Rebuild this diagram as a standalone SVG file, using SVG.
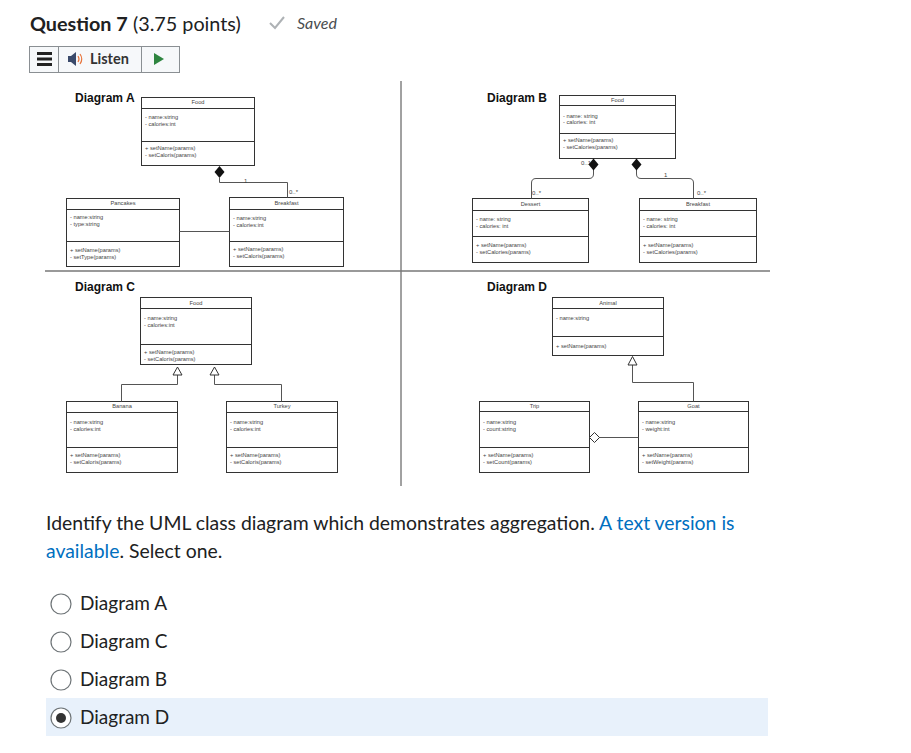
<svg xmlns="http://www.w3.org/2000/svg" width="911" height="753" viewBox="0 0 911 753">
<style>
.box{fill:#fff;stroke:#333;stroke-width:1}
.sep{stroke:#333;stroke-width:1}
.t{font-family:"Liberation Sans",Arial,sans-serif;font-size:5.7px;fill:#444}
.h{font-family:"Liberation Sans",Arial,sans-serif;font-size:5.7px;fill:#444;text-anchor:middle}
.lbl{font-family:"Liberation Sans",Arial,sans-serif;font-size:12px;font-weight:bold;fill:#111}
.m{font-family:"Liberation Sans",Arial,sans-serif;font-size:6px;fill:#444}
.ln{fill:none;stroke:#555;stroke-width:1}
.body{font-family:Lato,"Open Sans",sans-serif;font-size:19px;fill:#202122}
.q{font-size:19.4px}
.link{fill:#006fbf}
.radio{fill:#fff;stroke:#6e7477;stroke-width:1.2}
</style>
<rect width="911" height="753" fill="#fff"/>

<g id="header">
<text x="30" y="31" font-family="Lato,'Open Sans',sans-serif" font-size="19.8" fill="#202122"><tspan font-weight="bold">Question 7</tspan> (3.75 points)</text>
<path d="M270 23 L275 28 L284 17" fill="none" stroke="#aeb2b5" stroke-width="2"/>
<text x="297" y="29" font-family="Lato,'Open Sans',sans-serif" font-size="16" font-style="italic" fill="#494c4e">Saved</text>
</g>

<g id="listen-bar">
<rect x="29.5" y="46.5" width="150" height="26" fill="#f6f8fa" stroke="#8a8f93"/>
<line x1="58.5" y1="46.5" x2="58.5" y2="72.5" stroke="#8a8f93"/>
<line x1="141.5" y1="46.5" x2="141.5" y2="72.5" stroke="#8a8f93"/>
<rect x="37" y="52" width="15" height="3" fill="#222"/>
<rect x="37" y="57.5" width="15" height="3" fill="#222"/>
<rect x="37" y="63" width="15" height="3" fill="#222"/>
<path d="M68 56 L71 56 L76 52 L76 66 L71 62 L68 62 Z" fill="#3a4a6b"/>
<path d="M78 56 Q80 59 78 62 M80 54 Q83.5 59 80 64" fill="none" stroke="#e8743b" stroke-width="1.2"/>
<text x="90" y="64" font-family="Lato,'Open Sans',sans-serif" font-size="14.5" font-weight="bold" fill="#333">Listen</text>
<path d="M154 53 L164 59 L154 65 Z" fill="#2e8540"/>
</g>

<g id="dividers">
<line x1="401" y1="81" x2="401" y2="486" stroke="#444" stroke-width="1"/>
<line x1="45" y1="271" x2="770" y2="271" stroke="#777" stroke-width="1.3"/>
</g>

<g id="labels">
<text class="lbl" x="75" y="102">Diagram A</text>
<text class="lbl" x="487" y="102">Diagram B</text>
<text class="lbl" x="75" y="291">Diagram C</text>
<text class="lbl" x="487" y="291">Diagram D</text>
</g>

<!-- Diagram A -->
<g id="a-food">
<rect class="box" x="141.5" y="97.5" width="113" height="68"/>
<line class="sep" x1="141.5" y1="108.5" x2="254.5" y2="108.5"/>
<line class="sep" x1="141.5" y1="141.5" x2="254.5" y2="141.5"/>
<text class="h" x="198" y="104">Food</text>
<text class="t" x="145" y="119">- name:string</text>
<text class="t" x="145" y="126">- calories:int</text>
<text class="t" x="145" y="150">+ setName(params)</text>
<text class="t" x="145" y="157">- setCaloris(params)</text>
</g>
<g id="a-pancakes">
<rect class="box" x="66.5" y="198.5" width="113" height="68"/>
<line class="sep" x1="66.5" y1="209.5" x2="179.5" y2="209.5"/>
<line class="sep" x1="66.5" y1="241.5" x2="179.5" y2="241.5"/>
<text class="h" x="123" y="205">Pancakes</text>
<text class="t" x="70" y="219">- name:string</text>
<text class="t" x="70" y="226">- type:string</text>
<text class="t" x="70" y="252">+ setName(params)</text>
<text class="t" x="70" y="259">- setType(params)</text>
</g>
<g id="a-breakfast">
<rect class="box" x="229.5" y="197.5" width="114" height="69"/>
<line class="sep" x1="229.5" y1="209.5" x2="343.5" y2="209.5"/>
<line class="sep" x1="229.5" y1="241.5" x2="343.5" y2="241.5"/>
<text class="h" x="286.5" y="205">Breakfast</text>
<text class="t" x="233" y="220">- name:string</text>
<text class="t" x="233" y="227">- calories:int</text>
<text class="t" x="233" y="251">+ setName(params)</text>
<text class="t" x="233" y="258">- setCaloris(params)</text>
</g>

<!-- Diagram B -->
<g id="b-food">
<rect class="box" x="559.5" y="95.5" width="116" height="63"/>
<line class="sep" x1="559.5" y1="105.5" x2="675.5" y2="105.5"/>
<line class="sep" x1="559.5" y1="133.5" x2="675.5" y2="133.5"/>
<text class="h" x="617.5" y="102">Food</text>
<text class="t" x="563" y="118">- name: string</text>
<text class="t" x="563" y="124">- calories: int</text>
<text class="t" x="563" y="142">+ setName(params)</text>
<text class="t" x="563" y="149">- setCalories(params)</text>
</g>
<g id="b-dessert">
<rect class="box" x="472.5" y="198.5" width="116" height="64"/>
<line class="sep" x1="472.5" y1="210.5" x2="588.5" y2="210.5"/>
<line class="sep" x1="472.5" y1="236.5" x2="588.5" y2="236.5"/>
<text class="h" x="530.5" y="206">Dessert</text>
<text class="t" x="476" y="221">- name: string</text>
<text class="t" x="476" y="228">- calories: int</text>
<text class="t" x="476" y="247">+ setName(params)</text>
<text class="t" x="476" y="254">- setCalories(params)</text>
</g>
<g id="b-breakfast">
<rect class="box" x="639.5" y="198.5" width="117" height="64"/>
<line class="sep" x1="639.5" y1="210.5" x2="756.5" y2="210.5"/>
<line class="sep" x1="639.5" y1="236.5" x2="756.5" y2="236.5"/>
<text class="h" x="698" y="206">Breakfast</text>
<text class="t" x="643" y="221">- name: string</text>
<text class="t" x="643" y="228">- calories: int</text>
<text class="t" x="643" y="247">+ setName(params)</text>
<text class="t" x="643" y="254">- setCalories(params)</text>
</g>

<!-- Diagram C -->
<g id="c-food">
<rect class="box" x="140.5" y="297.5" width="111" height="67"/>
<line class="sep" x1="140.5" y1="308.5" x2="251.5" y2="308.5"/>
<line class="sep" x1="140.5" y1="344.5" x2="251.5" y2="344.5"/>
<text class="h" x="196" y="305">Food</text>
<text class="t" x="144" y="320">- name:string</text>
<text class="t" x="144" y="327">- calories:int</text>
<text class="t" x="144" y="354">+ setName(params)</text>
<text class="t" x="144" y="361">- setCaloris(params)</text>
</g>
<g id="c-banana">
<rect class="box" x="66.5" y="401.5" width="111" height="71"/>
<line class="sep" x1="66.5" y1="412.5" x2="177.5" y2="412.5"/>
<line class="sep" x1="66.5" y1="447.5" x2="177.5" y2="447.5"/>
<text class="h" x="122" y="408">Banana</text>
<text class="t" x="70" y="424">- name:string</text>
<text class="t" x="70" y="431">- calories:int</text>
<text class="t" x="70" y="457">+ setName(params)</text>
<text class="t" x="70" y="464">- setCaloris(params)</text>
</g>
<g id="c-turkey">
<rect class="box" x="226.5" y="401.5" width="111" height="71"/>
<line class="sep" x1="226.5" y1="412.5" x2="337.5" y2="412.5"/>
<line class="sep" x1="226.5" y1="447.5" x2="337.5" y2="447.5"/>
<text class="h" x="282" y="408">Turkey</text>
<text class="t" x="230" y="424">- name:string</text>
<text class="t" x="230" y="431">- calories:int</text>
<text class="t" x="230" y="457">+ setName(params)</text>
<text class="t" x="230" y="464">- setCaloris(params)</text>
</g>

<!-- Diagram D -->
<g id="d-animal">
<rect class="box" x="552.5" y="297.5" width="111" height="58"/>
<line class="sep" x1="552.5" y1="308.5" x2="663.5" y2="308.5"/>
<line class="sep" x1="552.5" y1="336.5" x2="663.5" y2="336.5"/>
<text class="h" x="608" y="305">Animal</text>
<text class="t" x="556" y="320">- name:string</text>
<text class="t" x="556" y="348">+ setName(params)</text>
</g>
<g id="d-trip">
<rect class="box" x="479.5" y="401.5" width="110" height="71"/>
<line class="sep" x1="479.5" y1="411.5" x2="589.5" y2="411.5"/>
<line class="sep" x1="479.5" y1="447.5" x2="589.5" y2="447.5"/>
<text class="h" x="534.5" y="408">Trip</text>
<text class="t" x="483" y="424">- name:string</text>
<text class="t" x="483" y="431">- count:string</text>
<text class="t" x="483" y="457">+ setName(params)</text>
<text class="t" x="483" y="464">- setCount(params)</text>
</g>
<g id="d-goat">
<rect class="box" x="638.5" y="401.5" width="110" height="71"/>
<line class="sep" x1="638.5" y1="411.5" x2="748.5" y2="411.5"/>
<line class="sep" x1="638.5" y1="447.5" x2="748.5" y2="447.5"/>
<text class="h" x="693.5" y="408">Goat</text>
<text class="t" x="642" y="424">- name:string</text>
<text class="t" x="642" y="431">- weight:int</text>
<text class="t" x="642" y="457">+ setName(params)</text>
<text class="t" x="642" y="464">- setWeight(params)</text>
</g>

<g id="connectors">
<!-- A -->
<path class="ln" d="M219.5 178 V182.5 H287.5 V197.5"/>
<path d="M219.5 166 L224.5 172 L219.5 178 L214.5 172 Z" fill="#111"/>
<text class="m" x="244" y="183">1</text>
<text class="m" x="289" y="194">0..*</text>
<line class="ln" x1="179.5" y1="231.5" x2="229.5" y2="231.5"/>
<!-- B -->
<text class="m" x="581" y="165">0..1</text>
<path class="ln" d="M593.5 170 V174 Q593.5 178.5 589 178.5 H536 Q531.5 178.5 531.5 183 V198.5"/>
<path d="M593.5 158.5 L598.5 164.5 L593.5 170.5 L588.5 164.5 Z" fill="#111"/>
<path class="ln" d="M636.5 170 V174 Q636.5 178.5 641 178.5 H689 Q693.5 178.5 693.5 183 V198.5"/>
<path d="M636.5 158.5 L641.5 164.5 L636.5 170.5 L631.5 164.5 Z" fill="#111"/>
<text class="m" x="532" y="195">0..*</text>
<text class="m" x="664" y="177">1</text>
<text class="m" x="697" y="195">0..*</text>
<!-- C -->
<path class="ln" d="M177.5 375 V384.5 H121.5 V401.5"/>
<path d="M177.5 367 L182 375 L173 375 Z" fill="#fff" stroke="#333" stroke-width="1"/>
<path class="ln" d="M214.5 375 V384.5 H281.5 V401.5"/>
<path d="M214.5 367 L219 375 L210 375 Z" fill="#fff" stroke="#333" stroke-width="1"/>
<!-- D -->
<path class="ln" d="M632.5 365 V382.5 H693.5 V401.5"/>
<path d="M632.5 356.5 L637 365 L628 365 Z" fill="#fff" stroke="#333" stroke-width="1"/>
<line class="ln" x1="599" y1="437.5" x2="638.5" y2="437.5"/>
<path d="M589.5 437.5 L594.5 432.5 L599.5 437.5 L594.5 442.5 Z" fill="#fff" stroke="#333" stroke-width="1"/>
</g>

<g id="question">
<text class="body q" x="46" y="530">Identify the UML class diagram which demonstrates aggregation. <tspan class="link">A text version is</tspan></text>
<text class="body q" x="46" y="558"><tspan class="link">available</tspan>. Select one.</text>
</g>

<g id="options">
<rect x="46" y="698" width="722" height="38" fill="#e8f1fb"/>
<circle class="radio" cx="61" cy="604" r="10"/>
<circle class="radio" cx="61" cy="642" r="10"/>
<circle class="radio" cx="61" cy="680" r="10"/>
<circle class="radio" cx="61" cy="718" r="10"/>
<circle cx="61" cy="718" r="5" fill="#333"/>
<text class="body" x="80" y="610">Diagram A</text>
<text class="body" x="80" y="648">Diagram C</text>
<text class="body" x="80" y="686">Diagram B</text>
<text class="body" x="80" y="724">Diagram D</text>
</g>
</svg>
